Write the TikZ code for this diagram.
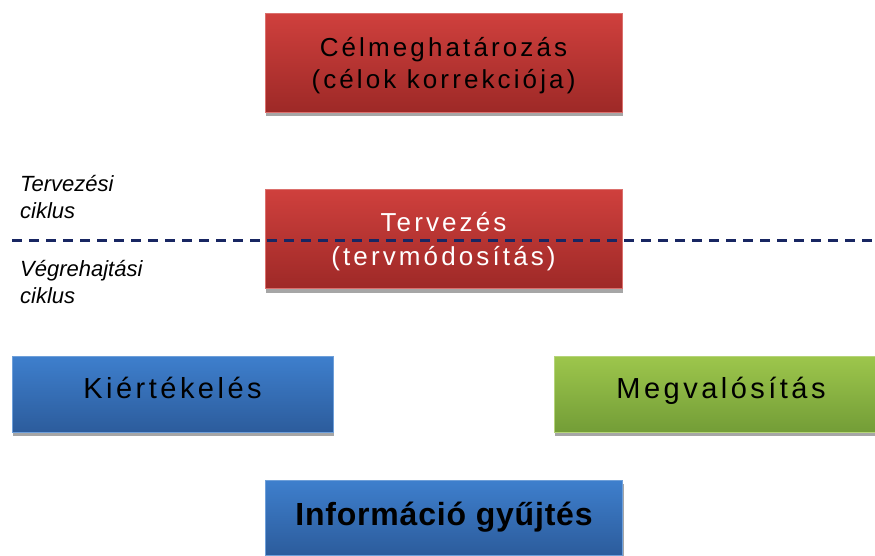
\documentclass[tikz,border=0pt]{standalone}
\usepackage{fontspec}
\setmainfont{Liberation Sans}
\usepackage{tikz}
\usetikzlibrary{calc,math,shadows}
\usepackage{xcolor}

\definecolor{redtop}{RGB}{207,64,61}
\definecolor{redbot}{RGB}{158,41,39}
\definecolor{bluetop}{RGB}{62,127,205}
\definecolor{bluebot}{RGB}{44,92,156}
\definecolor{greentop}{RGB}{157,198,76}
\definecolor{greenbot}{RGB}{115,157,55}
\definecolor{dashnavy}{RGB}{24,38,98}

\tikzset{
    cyclebox/.style={rectangle, inner sep=0pt, line width=0.8pt,
        drop shadow={shadow xshift=1pt, shadow yshift=-4pt, fill=black!35, opacity=1}},
    redbox/.style={cyclebox, top color=redtop, bottom color=redbot, draw=redtop!75!white},
    bluebox/.style={cyclebox, top color=bluetop, bottom color=bluebot, draw=bluetop!75!white},
    greenbox/.style={cyclebox, top color=greentop, bottom color=greenbot, draw=greentop!75!white},
    sidelabel/.style={anchor=base west, align=left, inner sep=0pt,
        font=\fontsize{22}{27}\selectfont\itshape}
}

\begin{document}
\begin{tikzpicture}[x=1pt, y=-1pt]

%frame of the whole diagram
\useasboundingbox (0,0) rectangle (875,555);

%sizes of the boxes
\tikzmath{
\midw=357;  \midh=99;      %boxes in the middle column
\sidew=321; \sideh=76;     %boxes on the two sides
}

%planning cycle
\node[redbox, minimum width=\midw pt, minimum height=\midh pt, align=center,
      text=black, text height=59pt, text depth=7pt,
      font=\fontsize{26}{32}\selectfont\addfontfeature{LetterSpace=12}] (cel) at (443.5,62.5)
      {Célmeghatározás\\(célok korrekciója)};
\node[redbox, minimum width=\midw pt, minimum height=\midh pt, align=center,
      text=white, text height=60pt, text depth=7pt,
      font=\fontsize{26}{34}\selectfont\addfontfeature{LetterSpace=12}] (terv) at (443.5,239)
      {Tervezés\\(tervmódosítás)};

%execution cycle (the green box runs past the right edge)
\node[bluebox, minimum width=\sidew pt, minimum height=\sideh pt, text height=20pt, text depth=12pt,
      font=\fontsize{29}{34}\selectfont\addfontfeature{LetterSpace=12}] (kiert) at (172.5,394) {Kiértékelés};
\node[greenbox, minimum width=334pt, minimum height=\sideh pt, text height=20pt, text depth=12pt,
      font=\fontsize{29}{34}\selectfont\addfontfeature{LetterSpace=12}] (megval) at (721,394) {Megvalósítás};
\node[bluebox, minimum width=\midw pt, minimum height=75pt, text height=22pt, text depth=7pt,
      font=\fontsize{32}{36}\selectfont\bfseries\addfontfeature{LetterSpace=2.5}] (info) at (444,517.5) {Információ gyűjtés};

%border of the two cycles
\coordinate (hatarL) at (12,240.5);
\coordinate (hatarR) at (875,240.5);
\draw[dashnavy, line width=2.5pt, dash pattern=on 10pt off 7pt] (hatarL) -- (hatarR);

%names of the cycles (placed at the baseline of the last line)
\node[sidelabel] (tervlabel) at (20,218.5) {Tervezési\\ciklus};
\node[sidelabel] (vegrlabel) at (20,303.5) {Végrehajtási\\ciklus};

\end{tikzpicture}
\end{document}
